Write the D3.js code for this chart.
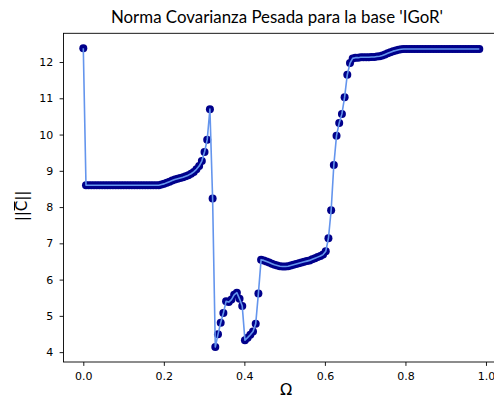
<!DOCTYPE html>
<html><head><meta charset="utf-8">
<script src="https://cdn.jsdelivr.net/npm/d3@7"></script>
<style>body{margin:0;background:#fff}svg{display:block}</style>
</head><body>
<svg id="chart" width="494" height="399"></svg>
<script>
// ---- data ----
const titleText = "Norma Covarianza Pesada para la base 'IGoR'";
const xLabelText = "Ω";
const omegaStep = 0.00669; // uniform sampling of Ω
const normValues = [
  12.38,
  8.60,8.60,8.60,8.60,8.60,8.60,8.60,8.60,8.60,8.60,
  8.60,8.60,8.60,8.60,8.60,8.60,8.60,8.60,8.60,8.60,
  8.60,8.60,8.60,8.60,8.60,8.60,8.60,8.60,
  8.62,8.64,8.67,8.70,8.73,8.76,8.78,8.80,8.82,8.85,
  8.88,8.92,8.97,9.04,9.13,9.27,9.52,9.86,10.70,8.24,
  4.14,4.49,4.81,5.08,5.40,5.38,5.45,5.58,5.64,5.47,
  5.27,4.33,4.40,4.48,4.57,4.78,5.62,6.55,6.53,6.50,
  6.47,6.44,6.41,6.39,6.37,6.36,6.36,6.37,6.39,6.41,
  6.43,6.45,6.47,6.49,6.51,6.53,6.56,6.59,6.62,6.65,
  6.69,6.78,7.14,7.91,9.16,9.97,10.32,10.57,11.03,11.65,
  11.97,12.10,12.12,12.12,12.13,12.13,12.13,12.13,12.14,12.14,
  12.15,12.16,12.18,12.21,12.24,12.27,12.30,12.32,12.34,12.35,
  12.36,12.36,12.36,12.36,12.36,12.36,12.36,12.36,12.36,12.36,
  12.36,12.36,12.36,12.36,12.36,12.36,12.36,12.36,12.36,12.36,
  12.36,12.36,12.36,12.36,12.36,12.36,12.36,12.36,12.36
];
const omegaValues = normValues.map((_, i) => i * omegaStep);
const xTickValues = [0, 0.2, 0.4, 0.6, 0.8, 1.0];
const xTickLabels = ["0.0", "0.2", "0.4", "0.6", "0.8", "1.0"];
const yTickValues = [4, 5, 6, 7, 8, 9, 10, 11, 12];
const yTickLabels = ["4", "5", "6", "7", "8", "9", "10", "11", "12"];

// ---- layout ----
const svg = d3.select("#chart");
const plot = {left: 63.5, right: 499.1, top: 33.3, bottom: 362};
const xMax = d3.max(omegaValues), yMin = d3.min(normValues), yMaxV = d3.max(normValues);
const xPad = 0.05 * xMax, yPad = 0.05 * (yMaxV - yMin);
const x = d3.scaleLinear().domain([-xPad, xMax + xPad]).range([plot.left, plot.right]);
const y = d3.scaleLinear().domain([yMin - yPad, yMaxV + yPad]).range([plot.bottom, plot.top]);

const data = omegaValues.map((o, i) => ({o, v: normValues[i]}));

svg.append("rect").attr("width", 494).attr("height", 399).attr("fill", "#fff");

// markers
svg.append("g").selectAll("circle").data(data).join("circle")
  .attr("cx", d => x(d.o)).attr("cy", d => y(d.v)).attr("r", 4)
  .attr("fill", "#00008b");

// line on top
svg.append("path").datum(data)
  .attr("d", d3.line().x(d => x(d.o)).y(d => y(d.v)))
  .attr("fill", "none").attr("stroke", "#6495ed").attr("stroke-width", 1.6)
  .attr("stroke-linejoin", "round");

// axes
const fontTick = "'DejaVu Sans', sans-serif";
const xAxis = d3.axisBottom(x).tickValues(xTickValues)
  .tickFormat((d, i) => xTickLabels[i]).tickSize(3.9).tickPadding(6.3);
const yAxis = d3.axisLeft(y).tickValues(yTickValues)
  .tickFormat((d, i) => yTickLabels[i]).tickSize(3.9).tickPadding(6.3);
const gx = svg.append("g").attr("transform", `translate(0,${plot.bottom})`).call(xAxis);
const gy = svg.append("g").attr("transform", `translate(${plot.left},0)`).call(yAxis);
[gx, gy].forEach(g => {
  g.select(".domain").remove();
  g.selectAll("line").attr("stroke", "#000").attr("stroke-width", 0.9);
  g.selectAll("text").attr("fill", "#000").style("font-family", fontTick).style("font-size", "11px");
});

// spines
svg.append("rect")
  .attr("x", plot.left).attr("y", plot.top)
  .attr("width", plot.right - plot.left).attr("height", plot.bottom - plot.top)
  .attr("fill", "none").attr("stroke", "#000").attr("stroke-width", 0.9);

// title (fit to measured width)
const title = svg.append("text")
  .attr("x", 277).attr("y", 22.5).attr("text-anchor", "middle")
  .style("font-family", "Lato, 'Open Sans', sans-serif").style("font-size", "15px")
  .attr("fill", "#000").text(titleText);
const tw = title.node().getComputedTextLength();
title.style("font-size", (15 * 332 / tw).toFixed(2) + "px");

// x label
svg.append("text").attr("x", 286).attr("y", 395).attr("text-anchor", "middle")
  .style("font-family", fontTick).style("font-size", "16px").attr("fill", "#000")
  .text(xLabelText);

// y label ||C̄||
const gyl = svg.append("g").attr("transform", "translate(27,206) rotate(-90)");
const yl = gyl.append("text").attr("x", 0).attr("y", 0).attr("text-anchor", "middle")
  .style("font-family", fontTick).style("font-size", "15px").attr("fill", "#000")
  .text("||C||");
const ext = yl.node().getExtentOfChar(2);
gyl.append("line")
  .attr("x1", ext.x + 0.8).attr("x2", ext.x + ext.width - 0.8)
  .attr("y1", ext.y + 1.5).attr("y2", ext.y + 1.5)
  .attr("stroke", "#000").attr("stroke-width", 1);
</script>
</body></html>
